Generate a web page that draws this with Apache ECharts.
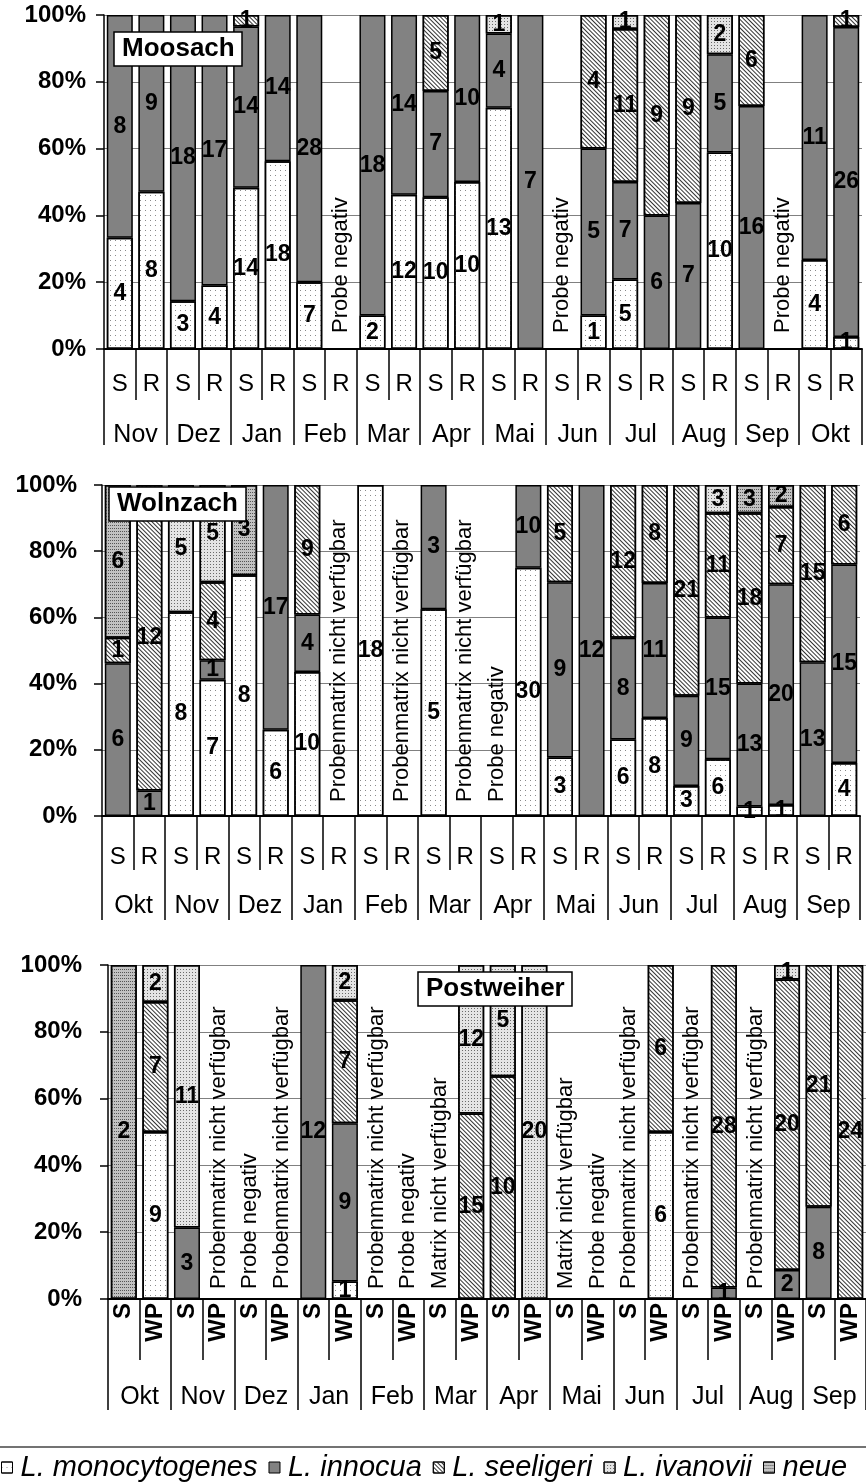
<!DOCTYPE html>
<html>
<head>
<meta charset="utf-8">
<script src="https://cdn.jsdelivr.net/npm/echarts@6/dist/echarts.min.js"></script>
<style>
html,body{margin:0;padding:0;background:#fff;}
#chart{width:866px;height:1483px;}
</style>
</head>
<body>
<div id="chart"></div>
<script>
// Anzahl Isolate je Spezies (null = keine)
const species = ['L. monocytogenes', 'L. innocua', 'L. seeligeri', 'L. ivanovii', 'neue'];

// Moosach
const monthsM = ['Nov','Dez','Jan','Feb','Mar','Apr','Mai','Jun','Jul','Aug','Sep','Okt'];
const subM = ['S','R','S','R','S','R','S','R','S','R','S','R','S','R','S','R','S','R','S','R','S','R','S','R'];
const monoM = [4,8,3,4,14,18,7,null,2,12,10,10,13,null,null,1,5,null,null,10,null,null,4,1];
const innoM = [8,9,18,17,14,14,28,null,18,14,7,10,4,7,null,5,7,6,7,5,16,null,11,26];
const seelM = [null,null,null,null,1,null,null,null,null,null,5,null,null,null,null,4,11,9,9,null,6,null,null,1];
const ivanM = [null,null,null,null,null,null,null,null,null,null,null,null,1,null,null,null,1,null,null,2,null,null,null,null];
const neueM = [null,null,null,null,null,null,null,null,null,null,null,null,null,null,null,null,null,null,null,null,null,null,null,null];
const noteM = ['','','','','','','','Probe negativ','','','','','','','Probe negativ','','','','','','','Probe negativ','',''];

// Wolnzach
const monthsW = ['Okt','Nov','Dez','Jan','Feb','Mar','Apr','Mai','Jun','Jul','Aug','Sep'];
const subW = ['S','R','S','R','S','R','S','R','S','R','S','R','S','R','S','R','S','R','S','R','S','R','S','R'];
const monoW = [null,null,8,7,8,6,10,null,18,null,5,null,null,30,3,null,6,8,3,6,1,1,null,4];
const innoW = [6,1,null,1,null,17,4,null,null,null,3,null,null,10,9,12,8,11,9,15,13,20,13,15];
const seelW = [1,12,null,4,null,null,9,null,null,null,null,null,null,null,5,null,12,8,21,11,18,7,15,6];
const ivanW = [null,null,5,5,null,null,null,null,null,null,null,null,null,null,null,null,null,null,null,3,null,null,null,null];
const neueW = [6,null,null,null,3,null,null,null,null,null,null,null,null,null,null,null,null,null,null,null,3,2,null,null];
const noteW = ['','','','','','','','Probenmatrix nicht verfügbar','','Probenmatrix nicht verfügbar','','Probenmatrix nicht verfügbar','Probe negativ','','','','','','','','','','',''];

// Postweiher
const monthsP = ['Okt','Nov','Dez','Jan','Feb','Mar','Apr','Mai','Jun','Jul','Aug','Sep'];
const subP = ['S','WP','S','WP','S','WP','S','WP','S','WP','S','WP','S','WP','S','WP','S','WP','S','WP','S','WP','S','WP'];
const monoP = [null,9,null,null,null,null,null,1,null,null,null,null,null,null,null,null,null,6,null,null,null,null,null,null];
const innoP = [null,null,3,null,null,null,12,9,null,null,null,null,null,null,null,null,null,null,null,1,null,2,8,null];
const seelP = [null,7,null,null,null,null,null,7,null,null,null,15,10,null,null,null,null,6,null,28,null,20,21,24];
const ivanP = [null,2,11,null,null,null,null,2,null,null,null,12,5,20,null,null,null,null,null,null,null,1,null,null];
const neueP = [2,null,null,null,null,null,null,null,null,null,null,null,null,null,null,null,null,null,null,null,null,null,null,null];
const noteP = ['','','','Probenmatrix nicht verfügbar','Probe negativ','Probenmatrix nicht verfügbar','','','Probenmatrix nicht verfügbar','Probe negativ','Matrix nicht verfügbar','','','','Matrix nicht verfügbar','Probe negativ','Probenmatrix nicht verfügbar','','Probenmatrix nicht verfügbar','','Probenmatrix nicht verfügbar','','',''];

const FONT = 'Liberation Sans, Arial, sans-serif';

// Füllmuster je Spezies
const speciesStyle = [
  {color: '#ffffff', decal: {symbol: 'rect', symbolSize: 1, color: '#8a8a8a', dashArrayX: [1, 4], dashArrayY: [1, 4]}},
  {color: '#828282'},
  {color: '#ffffff', decal: {symbol: 'rect', symbolSize: 1, color: '#333333', dashArrayX: [1, 0], dashArrayY: [1, 2], rotation: Math.PI / 4}},
  {color: '#e4e4e4', decal: {symbol: 'rect', symbolSize: 1, color: '#6a6a6a', dashArrayX: [1, 2], dashArrayY: [1, 2]}},
  {color: '#c2c2c2', decal: {symbol: 'rect', symbolSize: 1, color: '#555555', dashArrayX: [1, 1], dashArrayY: [1, 2]}}
];

const panels = [
  {title: 'Moosach', months: monthsM, sub: subM, counts: [monoM, innoM, seelM, ivanM, neueM], notes: noteM,
   grid: {left: 104, top: 15, width: 758, height: 334}, ylabelMargin: 18, subMargin: 23, subTick: 51, monthMargin: 74, monthTick: 96,
   subRotate: 0, noteDist: 16, titlePos: {left: 114, top: 32}},
  {title: 'Wolnzach', months: monthsW, sub: subW, counts: [monoW, innoW, seelW, ivanW, neueW], notes: noteW,
   grid: {left: 102, top: 485, width: 758, height: 331}, ylabelMargin: 25, subMargin: 29, subTick: 54, monthMargin: 78, monthTick: 104,
   subRotate: 0, noteDist: 14, titlePos: {left: 109, top: 487}},
  {title: 'Postweiher', months: monthsP, sub: subP, counts: [monoP, innoP, seelP, ivanP, neueP], notes: noteP,
   grid: {left: 108, top: 965, width: 760, height: 334}, ylabelMargin: 26, subMargin: 4, subTick: 61, monthMargin: 86, monthTick: 111,
   subRotate: 90, noteDist: 10, titlePos: {left: 418, top: 972}}
];

const grids = [], xAxes = [], yAxes = [], titles = [], series = [];

panels.forEach((p, pi) => {
  grids.push(p.grid);
  titles.push({
    text: p.title, left: p.titlePos.left, top: p.titlePos.top,
    padding: [4, 8, 4, 8], backgroundColor: '#fff', borderColor: '#000', borderWidth: 1.5,
    textStyle: {fontFamily: FONT, fontSize: 26, fontWeight: 'bold', color: '#000'}
  });
  xAxes.push({
    type: 'category', gridIndex: pi, data: p.sub, position: 'bottom',
    axisLine: {show: true, lineStyle: {color: '#000', width: 2}},
    axisTick: {show: true, interval: 0, length: p.subTick, lineStyle: {color: '#000', width: 1.5}},
    axisLabel: {interval: 0, margin: p.subMargin, rotate: p.subRotate, color: '#000', fontFamily: FONT,
      fontSize: 24, fontWeight: p.subRotate ? 'bold' : 'normal'}
  });
  xAxes.push({
    type: 'category', gridIndex: pi, data: p.months, position: 'bottom',
    axisLine: {show: false},
    axisTick: {show: true, interval: 0, length: p.monthTick, lineStyle: {color: '#000', width: 1.5}},
    axisLabel: {interval: 0, margin: p.monthMargin, color: '#000', fontFamily: FONT, fontSize: 25}
  });
  yAxes.push({
    type: 'value', gridIndex: pi, min: 0, max: 100, interval: 20,
    axisLine: {show: true, lineStyle: {color: '#000', width: 1.5}},
    axisTick: {show: true, length: 8, lineStyle: {color: '#000', width: 1.5}},
    axisLabel: {formatter: '{value}%', margin: p.ylabelMargin, color: '#000', fontFamily: FONT, fontSize: 24, fontWeight: 'bold'},
    splitLine: {show: true, lineStyle: {color: '#808080', width: 1}}
  });

  const totals = p.sub.map((_, i) => p.counts.reduce((s, arr) => s + (arr[i] || 0), 0));

  p.counts.forEach((arr, si) => {
    series.push({
      type: 'bar', name: species[si], xAxisIndex: pi * 2, yAxisIndex: pi, stack: 'panel' + pi,
      barWidth: 26,
      data: arr.map((c, i) => (c ? c / totals[i] * 100 : null)),
      itemStyle: Object.assign({borderColor: '#000', borderWidth: 1.5}, speciesStyle[si]),
      label: {
        show: true, position: 'inside', color: '#000', fontFamily: FONT, fontSize: 23, fontWeight: 'bold',
        formatter: prm => arr[prm.dataIndex]
      },
      emphasis: {disabled: true}
    });
  });

  // Hinweise für Proben ohne Ergebnis
  series.push({
    type: 'bar', name: 'Hinweis', xAxisIndex: pi * 2, yAxisIndex: pi, stack: 'panel' + pi,
    barWidth: 26,
    data: p.notes.map(t => (t ? 100 : null)),
    itemStyle: {color: 'rgba(0,0,0,0)', borderWidth: 0},
    label: {
      show: true, position: 'insideBottom', rotate: 90, align: 'left', verticalAlign: 'middle',
      distance: p.noteDist, color: '#000', fontFamily: FONT, fontSize: 22,
      formatter: prm => p.notes[prm.dataIndex]
    },
    emphasis: {disabled: true}
  });
});

const chart = echarts.init(document.getElementById('chart'));
chart.setOption({
  animation: false,
  backgroundColor: '#fff',
  textStyle: {fontFamily: FONT},
  title: titles,
  grid: grids,
  xAxis: xAxes,
  yAxis: yAxes,
  legend: {
    data: species, left: -4, top: 1448, width: 1100, icon: 'rect', itemWidth: 11, itemHeight: 11, itemGap: 11,
    selectedMode: false,
    itemStyle: {borderColor: '#000', borderWidth: 1},
    textStyle: {fontFamily: FONT, fontSize: 29, fontStyle: 'italic', color: '#000', padding: [0, 0, 0, 3]}
  },
  graphic: [{
    type: 'line', shape: {x1: 0, y1: 1447, x2: 866, y2: 1447},
    style: {stroke: '#444', lineWidth: 1.5}
  }],
  series: series
});
</script>
</body>
</html>
